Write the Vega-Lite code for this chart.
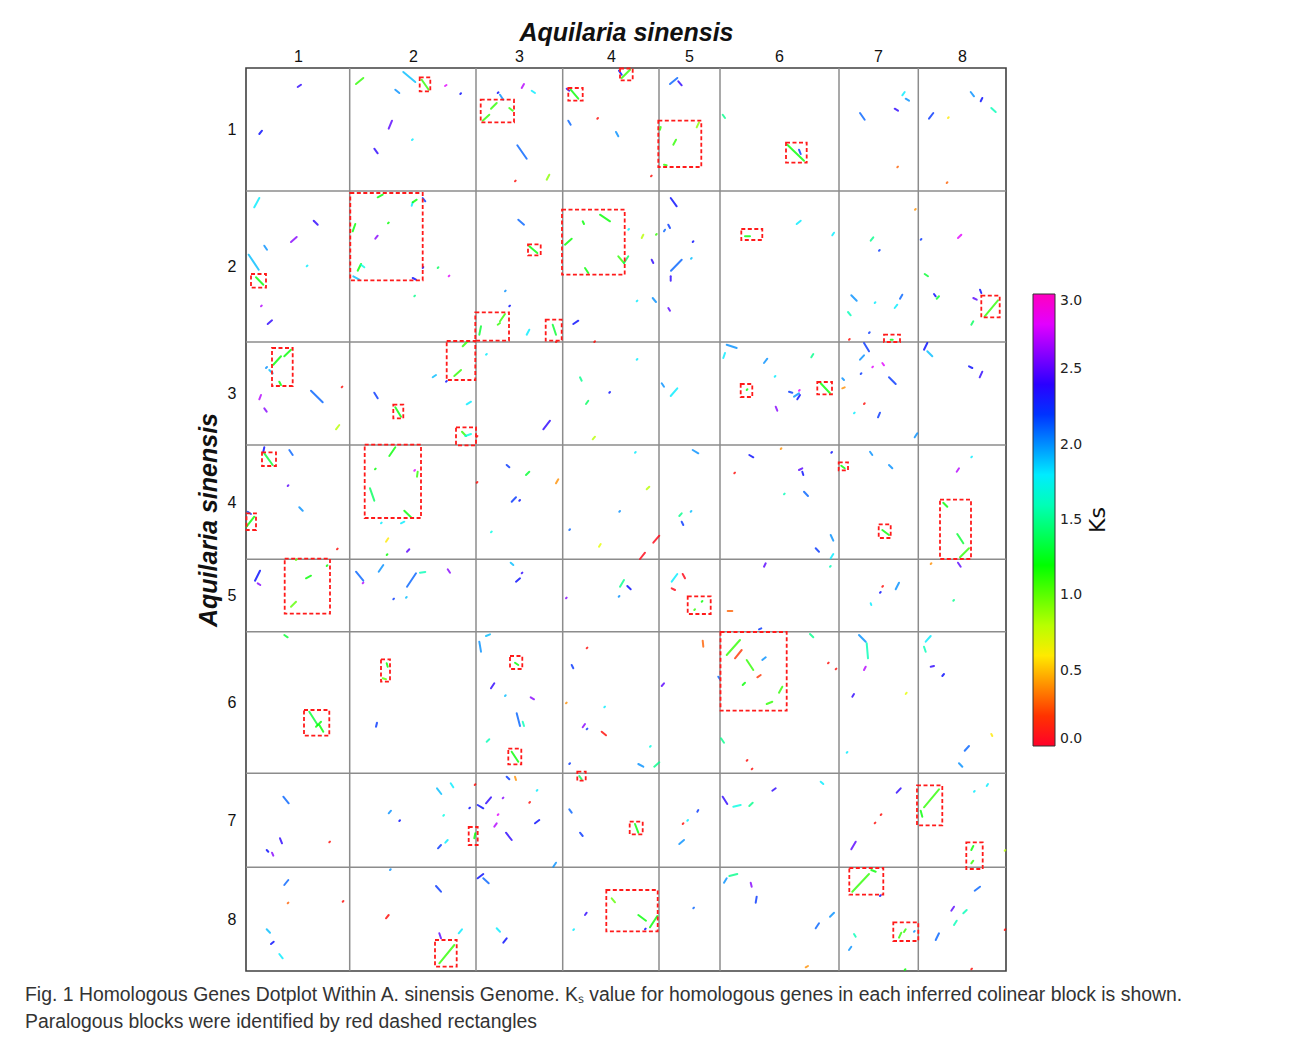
{
"$schema": "https://vega.github.io/schema/vega-lite/v6.json",
"width": 760, "height": 903,
"autosize": {"type": "none"},
"padding": {"left": 246, "top": 68, "right": 284, "bottom": 71},
"background": "white",
"config": {"view": {"stroke": "#404040", "strokeWidth": 1.6}},
"title": {"text": ["Fig. 1 Homologous Genes Dotplot Within A. sinensis Genome. Kₛ value for homologous genes in each inferred colinear block is shown.", "Paralogous blocks were identified by red dashed rectangles"], "orient": "bottom", "anchor": "start", "frame": "group", "offset": 14, "dx": -221, "font": "Liberation Sans", "fontSize": 19.4, "fontWeight": "normal", "color": "#333333", "lineHeight": 27, "baseline": "top"},
"datasets": {
"vlines": [{"pos": 103.7}, {"pos": 230}, {"pos": 316.7}, {"pos": 413}, {"pos": 474}, {"pos": 593}, {"pos": 672.3}],
"hlines": [{"pos": 123}, {"pos": 274}, {"pos": 377}, {"pos": 491.3}, {"pos": 563.7}, {"pos": 705.3}, {"pos": 799.3}],
"blocks": [
{"x1":173.7,"x2":184.3,"y1":9.3,"y2":23.3},
{"x1":234.7,"x2":268,"y1":31.7,"y2":54.3},
{"x1":322.3,"x2":336.7,"y1":20,"y2":32.7},
{"x1":374,"x2":386.7,"y1":0.5,"y2":12.3},
{"x1":412.3,"x2":455.3,"y1":52.7,"y2":99},
{"x1":540,"x2":560.7,"y1":74.7,"y2":94.7},
{"x1":5,"x2":20,"y1":206,"y2":219.7},
{"x1":104.3,"x2":176.7,"y1":125,"y2":212.3},
{"x1":282,"x2":294.7,"y1":176.3,"y2":187.3},
{"x1":316,"x2":378.7,"y1":141.7,"y2":206.7},
{"x1":495.3,"x2":516.3,"y1":161,"y2":172},
{"x1":229.3,"x2":263,"y1":244.3,"y2":272.7},
{"x1":299.7,"x2":315.7,"y1":251.7,"y2":272.7},
{"x1":638,"x2":654,"y1":266.7,"y2":274},
{"x1":735.3,"x2":753.7,"y1":227.7,"y2":249.3},
{"x1":26,"x2":46.7,"y1":280,"y2":318},
{"x1":200.7,"x2":229.3,"y1":273,"y2":312},
{"x1":147.3,"x2":157.3,"y1":336.7,"y2":350.3},
{"x1":210,"x2":230,"y1":359.3,"y2":377.3},
{"x1":494.7,"x2":506.3,"y1":316,"y2":329},
{"x1":571.3,"x2":586,"y1":314,"y2":326.3},
{"x1":16,"x2":30,"y1":384.3,"y2":398},
{"x1":0.5,"x2":10,"y1":445.3,"y2":462},
{"x1":118.7,"x2":175,"y1":376.7,"y2":450},
{"x1":592.7,"x2":602,"y1":394.3,"y2":402.3},
{"x1":632.7,"x2":644.7,"y1":456.3,"y2":470},
{"x1":694,"x2":725,"y1":431.7,"y2":491},
{"x1":38.7,"x2":84,"y1":490.7,"y2":545.7},
{"x1":441.7,"x2":464.7,"y1":528.3,"y2":546},
{"x1":135,"x2":144,"y1":591.3,"y2":613.7},
{"x1":264,"x2":276.3,"y1":588,"y2":601},
{"x1":474.5,"x2":540.7,"y1":564,"y2":642.7},
{"x1":58,"x2":83.3,"y1":642,"y2":667.7},
{"x1":262.3,"x2":275.3,"y1":680.7,"y2":696.3},
{"x1":331.3,"x2":339.7,"y1":703.7,"y2":712.7},
{"x1":222.7,"x2":231.7,"y1":759,"y2":777},
{"x1":383.7,"x2":396.7,"y1":753.7,"y2":766.3},
{"x1":671,"x2":696.3,"y1":717.3,"y2":757.3},
{"x1":720.3,"x2":736.7,"y1":774.3,"y2":801},
{"x1":189,"x2":210.7,"y1":872,"y2":898.7},
{"x1":360.3,"x2":411.7,"y1":822,"y2":863.3},
{"x1":603.3,"x2":637.3,"y1":800,"y2":826.7},
{"x1":647.3,"x2":672.3,"y1":854.3,"y2":873}
],
"segments": [
{"x1":51.7,"y1":19,"x2":55,"y2":16.7,"ks":2.4},
{"x1":13.3,"y1":66,"x2":16,"y2":62.7,"ks":2.3},
{"x1":110,"y1":16,"x2":117.3,"y2":10,"ks":1.1},
{"x1":157.3,"y1":4,"x2":169.3,"y2":14,"ks":1.9},
{"x1":175.7,"y1":11.7,"x2":182.7,"y2":21.7,"ks":1.1},
{"x1":199,"y1":18,"x2":200.5,"y2":17,"ks":2.8},
{"x1":214.3,"y1":26,"x2":215,"y2":25.3,"ks":2.3},
{"x1":149.3,"y1":21.7,"x2":153.3,"y2":25,"ks":2.0},
{"x1":146,"y1":52.7,"x2":142.7,"y2":60.7,"ks":2.5},
{"x1":166,"y1":72,"x2":166.8,"y2":71.3,"ks":1.8},
{"x1":128.3,"y1":80.7,"x2":131.7,"y2":85.3,"ks":2.4},
{"x1":236.7,"y1":52.7,"x2":243.3,"y2":46.7,"ks":1.1},
{"x1":245,"y1":40.7,"x2":250.7,"y2":35,"ks":1.1},
{"x1":251.7,"y1":25,"x2":252.5,"y2":24.3,"ks":2.3},
{"x1":8.3,"y1":139.3,"x2":13.3,"y2":130,"ks":1.8},
{"x1":67.7,"y1":152.7,"x2":71.7,"y2":156.7,"ks":2.4},
{"x1":45,"y1":174,"x2":50.7,"y2":169,"ks":2.6},
{"x1":18.3,"y1":177.7,"x2":21,"y2":181.7,"ks":2.0},
{"x1":2.7,"y1":186.7,"x2":12.7,"y2":201.7,"ks":1.9},
{"x1":10,"y1":209.3,"x2":17.3,"y2":216.7,"ks":1.2},
{"x1":60.7,"y1":198.3,"x2":61.5,"y2":197.6,"ks":1.8},
{"x1":15,"y1":238.3,"x2":15.8,"y2":237.6,"ks":2.7},
{"x1":26,"y1":252.3,"x2":21.7,"y2":256,"ks":2.4},
{"x1":131.7,"y1":129.3,"x2":136.7,"y2":126.7,"ks":1.2},
{"x1":165.7,"y1":137.7,"x2":166.7,"y2":134.3,"ks":1.8},
{"x1":166.7,"y1":134.3,"x2":170.7,"y2":131.7,"ks":1.2},
{"x1":176.7,"y1":130,"x2":179.3,"y2":133.3,"ks":2.2},
{"x1":106.7,"y1":163.3,"x2":109.3,"y2":156,"ks":1.2},
{"x1":142,"y1":155.3,"x2":142.8,"y2":154.6,"ks":1.2},
{"x1":129.3,"y1":170.7,"x2":131.7,"y2":167.7,"ks":2.6},
{"x1":111.7,"y1":202.7,"x2":115,"y2":196,"ks":1.2},
{"x1":115,"y1":196.7,"x2":118.3,"y2":199.3,"ks":1.7},
{"x1":107.3,"y1":208.3,"x2":113.3,"y2":211.7,"ks":1.9},
{"x1":166.7,"y1":210,"x2":170,"y2":211.7,"ks":2.3},
{"x1":176.7,"y1":200,"x2":177.3,"y2":199,"ks":2.3},
{"x1":191.7,"y1":200,"x2":192.4,"y2":199.3,"ks":1.4},
{"x1":202.7,"y1":208.3,"x2":203.4,"y2":207.6,"ks":2.8},
{"x1":168.3,"y1":228.3,"x2":169,"y2":227.6,"ks":1.5},
{"x1":233.3,"y1":266.7,"x2":235,"y2":258.3,"ks":1.3},
{"x1":251.7,"y1":256.7,"x2":254,"y2":255,"ks":1.1},
{"x1":27.3,"y1":296.7,"x2":35,"y2":288.3,"ks":1.2},
{"x1":38.3,"y1":288.3,"x2":45,"y2":281.7,"ks":1.2},
{"x1":20,"y1":300,"x2":21,"y2":299,"ks":2.0},
{"x1":216.7,"y1":278.3,"x2":221.7,"y2":273.3,"ks":1.1},
{"x1":240,"y1":286.7,"x2":240.8,"y2":286,"ks":1.8},
{"x1":23.3,"y1":302,"x2":26.7,"y2":305.3,"ks":1.9},
{"x1":33.3,"y1":313.7,"x2":35,"y2":317,"ks":1.2},
{"x1":15,"y1":327,"x2":13.3,"y2":331.3,"ks":2.7},
{"x1":18.3,"y1":340.3,"x2":20.7,"y2":343.7,"ks":2.6},
{"x1":65,"y1":322.7,"x2":76.7,"y2":334.3,"ks":2.1},
{"x1":95.7,"y1":319.3,"x2":96.4,"y2":318.6,"ks":0.1},
{"x1":90,"y1":361.3,"x2":93.3,"y2":357,"ks":0.8},
{"x1":128.3,"y1":324.7,"x2":131.7,"y2":330.3,"ks":2.2},
{"x1":149.3,"y1":339.3,"x2":155,"y2":348.7,"ks":1.2},
{"x1":186.7,"y1":309.3,"x2":190,"y2":307,"ks":1.9},
{"x1":200,"y1":313.7,"x2":200.8,"y2":313,"ks":2.3},
{"x1":208.3,"y1":308,"x2":215,"y2":302,"ks":1.1},
{"x1":220.7,"y1":336.3,"x2":225,"y2":333.7,"ks":1.8},
{"x1":216,"y1":363.7,"x2":220,"y2":368,"ks":1.1},
{"x1":219.3,"y1":368,"x2":225,"y2":366,"ks":1.7},
{"x1":230.7,"y1":368.7,"x2":231.4,"y2":368,"ks":0.1},
{"x1":18.3,"y1":385.3,"x2":26.7,"y2":397,"ks":1.3},
{"x1":18.3,"y1":379.3,"x2":17.3,"y2":383.7,"ks":2.3},
{"x1":43.3,"y1":382,"x2":46.7,"y2":387,"ks":2.1},
{"x1":41.7,"y1":418,"x2":42.4,"y2":417.3,"ks":2.5},
{"x1":53.3,"y1":439.3,"x2":56.7,"y2":442.7,"ks":2.0},
{"x1":0.5,"y1":458.7,"x2":8.3,"y2":448.7,"ks":1.2},
{"x1":1.7,"y1":443.7,"x2":5,"y2":446,"ks":2.2},
{"x1":91,"y1":481.3,"x2":91.7,"y2":480.6,"ks":0.1},
{"x1":143.3,"y1":388,"x2":149.3,"y2":379.3,"ks":1.2},
{"x1":129,"y1":401.3,"x2":129.7,"y2":400.6,"ks":1.2},
{"x1":168.3,"y1":402.7,"x2":169,"y2":402,"ks":2.8},
{"x1":171,"y1":408.7,"x2":171.7,"y2":403.7,"ks":1.1},
{"x1":124,"y1":420.3,"x2":128.3,"y2":432.7,"ks":1.4},
{"x1":158.3,"y1":442.7,"x2":165,"y2":449.3,"ks":1.2},
{"x1":158.3,"y1":453.7,"x2":155,"y2":455.3,"ks":1.8},
{"x1":135,"y1":455.3,"x2":135.7,"y2":454.6,"ks":1.8},
{"x1":140,"y1":473.7,"x2":142.3,"y2":470.3,"ks":0.6},
{"x1":140.7,"y1":487,"x2":141.4,"y2":486.3,"ks":1.2},
{"x1":161,"y1":483.7,"x2":163.3,"y2":481.3,"ks":2.5},
{"x1":230.7,"y1":414.7,"x2":231.4,"y2":414,"ks":0.1},
{"x1":245,"y1":464.3,"x2":245.8,"y2":463.6,"ks":1.7},
{"x1":9,"y1":512.7,"x2":14,"y2":502.7,"ks":2.3},
{"x1":11.7,"y1":515.3,"x2":14.3,"y2":517,"ks":2.6},
{"x1":50,"y1":492,"x2":50.8,"y2":491.3,"ks":1.0},
{"x1":80.7,"y1":498,"x2":81.4,"y2":497.3,"ks":1.2},
{"x1":60,"y1":510.3,"x2":65,"y2":507.7,"ks":1.2},
{"x1":45,"y1":538.7,"x2":50,"y2":533.7,"ks":1.0},
{"x1":110,"y1":503.7,"x2":117.3,"y2":512.7,"ks":2.1},
{"x1":116.7,"y1":515.3,"x2":117.4,"y2":514.6,"ks":2.7},
{"x1":132.7,"y1":503.7,"x2":137.3,"y2":497,"ks":2.0},
{"x1":161,"y1":518.7,"x2":170,"y2":505.3,"ks":2.1},
{"x1":174,"y1":504.7,"x2":179.3,"y2":504,"ks":1.6},
{"x1":201.7,"y1":501.3,"x2":204,"y2":504.7,"ks":2.6},
{"x1":147.3,"y1":531.3,"x2":148,"y2":530.6,"ks":2.2},
{"x1":160,"y1":529.7,"x2":160.7,"y2":529,"ks":1.9},
{"x1":38.3,"y1":567,"x2":41.7,"y2":569.3,"ks":1.3},
{"x1":233.3,"y1":573.7,"x2":235,"y2":583.7,"ks":2.0},
{"x1":240,"y1":568,"x2":244,"y2":566.3,"ks":1.9},
{"x1":140.7,"y1":595.3,"x2":141.7,"y2":598.7,"ks":1.2},
{"x1":136.7,"y1":610.3,"x2":140,"y2":611.3,"ks":1.0},
{"x1":248.3,"y1":615.3,"x2":245,"y2":620.3,"ks":2.4},
{"x1":63.3,"y1":643.7,"x2":71.7,"y2":657,"ks":1.3},
{"x1":70,"y1":658.7,"x2":75,"y2":653.7,"ks":1.2},
{"x1":73.3,"y1":657,"x2":77.3,"y2":663.7,"ks":1.2},
{"x1":130,"y1":658.7,"x2":131,"y2":654.7,"ks":2.2},
{"x1":240.7,"y1":673.7,"x2":243.3,"y2":671.3,"ks":1.6},
{"x1":37.3,"y1":728.7,"x2":42.7,"y2":735.3,"ks":2.1},
{"x1":34,"y1":770.3,"x2":36,"y2":775.3,"ks":2.4},
{"x1":20.7,"y1":782,"x2":22.3,"y2":783.7,"ks":2.3},
{"x1":26,"y1":784.7,"x2":27.3,"y2":787.7,"ks":2.6},
{"x1":83.3,"y1":774.3,"x2":84,"y2":773.6,"ks":0.1},
{"x1":142.7,"y1":745.3,"x2":145,"y2":742.7,"ks":2.0},
{"x1":153.3,"y1":753,"x2":154,"y2":752.3,"ks":2.3},
{"x1":191,"y1":720.3,"x2":195.3,"y2":726,"ks":1.9},
{"x1":204.7,"y1":715.3,"x2":207.3,"y2":719.3,"ks":1.8},
{"x1":197.3,"y1":747.7,"x2":198,"y2":747,"ks":1.7},
{"x1":192,"y1":780.3,"x2":195,"y2":777,"ks":2.2},
{"x1":199.3,"y1":774.7,"x2":201.7,"y2":772,"ks":1.8},
{"x1":223.3,"y1":740.3,"x2":224,"y2":739.6,"ks":2.3},
{"x1":228.7,"y1":717,"x2":229.4,"y2":716.3,"ks":0.1},
{"x1":228.3,"y1":770.3,"x2":229.3,"y2":765.3,"ks":1.2},
{"x1":231.7,"y1":737,"x2":237.3,"y2":740.3,"ks":2.3},
{"x1":240,"y1":735.3,"x2":245,"y2":729.3,"ks":2.4},
{"x1":251.7,"y1":747,"x2":252.4,"y2":746.3,"ks":2.8},
{"x1":248.3,"y1":758.7,"x2":250.7,"y2":755.3,"ks":2.7},
{"x1":38.3,"y1":817,"x2":42.3,"y2":812,"ks":2.1},
{"x1":41.7,"y1":835.3,"x2":42.4,"y2":834.6,"ks":0.3},
{"x1":96.7,"y1":833.7,"x2":97.4,"y2":833,"ks":0.1},
{"x1":20.7,"y1":861.3,"x2":24,"y2":864.7,"ks":1.9},
{"x1":25,"y1":876,"x2":27.7,"y2":873.7,"ks":2.3},
{"x1":33.3,"y1":886,"x2":36.7,"y2":890.3,"ks":1.8},
{"x1":144,"y1":802,"x2":144.7,"y2":801.3,"ks":2.0},
{"x1":190,"y1":818,"x2":195,"y2":823.7,"ks":2.2},
{"x1":140,"y1":850.3,"x2":142.7,"y2":847,"ks":0.1},
{"x1":193.3,"y1":865.3,"x2":195,"y2":870.3,"ks":2.5},
{"x1":212.7,"y1":865.3,"x2":216,"y2":861.3,"ks":1.8},
{"x1":193.3,"y1":895.3,"x2":208.3,"y2":877,"ks":1.1},
{"x1":231.7,"y1":810.3,"x2":237.3,"y2":806,"ks":2.3},
{"x1":237.3,"y1":810.3,"x2":242.7,"y2":815.3,"ks":2.1},
{"x1":250.7,"y1":860.3,"x2":254,"y2":863.7,"ks":1.8},
{"x1":275.7,"y1":20,"x2":278,"y2":16,"ks":2.7},
{"x1":285.7,"y1":22.7,"x2":289,"y2":25,"ks":1.8},
{"x1":254,"y1":26.7,"x2":257.3,"y2":31.7,"ks":2.0},
{"x1":263.3,"y1":40,"x2":266.7,"y2":42.7,"ks":1.1},
{"x1":271.3,"y1":77.3,"x2":280.7,"y2":90.7,"ks":2.1},
{"x1":300.7,"y1":111.7,"x2":303.3,"y2":106.7,"ks":0.9},
{"x1":269,"y1":113.3,"x2":269.7,"y2":112.6,"ks":0.1},
{"x1":375.7,"y1":10,"x2":384,"y2":1.7,"ks":1.1},
{"x1":373,"y1":2.7,"x2":375.7,"y2":6.7,"ks":2.3},
{"x1":320.7,"y1":20.7,"x2":323.3,"y2":22.7,"ks":2.4},
{"x1":324.7,"y1":21.7,"x2":332.3,"y2":30.7,"ks":1.2},
{"x1":322.3,"y1":52.7,"x2":324.7,"y2":56.7,"ks":2.1},
{"x1":351.3,"y1":50.7,"x2":352,"y2":50,"ks":0.1},
{"x1":370,"y1":64,"x2":372.3,"y2":68.3,"ks":2.0},
{"x1":405,"y1":108.3,"x2":405.7,"y2":107.6,"ks":0.1},
{"x1":424,"y1":16,"x2":431.3,"y2":10,"ks":2.1},
{"x1":432.3,"y1":13.3,"x2":435.7,"y2":17.3,"ks":2.4},
{"x1":414,"y1":61.7,"x2":414.7,"y2":59,"ks":1.1},
{"x1":427.3,"y1":76.7,"x2":430,"y2":71.7,"ks":1.1},
{"x1":450.7,"y1":59.3,"x2":453,"y2":54.3,"ks":0.9},
{"x1":418,"y1":96.7,"x2":420.7,"y2":97.3,"ks":1.1},
{"x1":476.7,"y1":46.7,"x2":479,"y2":50,"ks":1.5},
{"x1":272.3,"y1":151.7,"x2":278,"y2":156.7,"ks":2.1},
{"x1":283.3,"y1":178.3,"x2":291.3,"y2":185,"ks":1.2},
{"x1":259,"y1":223.3,"x2":259.7,"y2":222.6,"ks":2.0},
{"x1":263.3,"y1":238.3,"x2":264,"y2":237.6,"ks":2.3},
{"x1":306.7,"y1":256.7,"x2":310,"y2":266.7,"ks":1.3},
{"x1":280.7,"y1":266.7,"x2":283.3,"y2":261.7,"ks":1.8},
{"x1":254,"y1":253.3,"x2":259,"y2":246,"ks":1.1},
{"x1":310,"y1":274,"x2":310.7,"y2":273.3,"ks":0.1},
{"x1":354,"y1":146.7,"x2":364,"y2":153.3,"ks":1.2},
{"x1":336.7,"y1":153.3,"x2":338,"y2":156,"ks":1.2},
{"x1":319,"y1":176.7,"x2":325.7,"y2":170.7,"ks":1.2},
{"x1":372.3,"y1":188.3,"x2":378,"y2":195,"ks":1.1},
{"x1":378,"y1":195,"x2":382.3,"y2":188.3,"ks":1.4},
{"x1":339,"y1":200,"x2":342.3,"y2":205,"ks":1.2},
{"x1":382.3,"y1":161.7,"x2":383,"y2":161,"ks":1.8},
{"x1":397.3,"y1":166.7,"x2":395.7,"y2":170,"ks":0.8},
{"x1":410,"y1":166.7,"x2":410.7,"y2":166,"ks":1.1},
{"x1":405.7,"y1":191.7,"x2":407.3,"y2":195,"ks":2.4},
{"x1":424.7,"y1":130,"x2":430.7,"y2":138.3,"ks":2.3},
{"x1":418,"y1":163.3,"x2":419,"y2":161.7,"ks":2.1},
{"x1":422.3,"y1":156.7,"x2":424,"y2":160,"ks":2.2},
{"x1":446.7,"y1":174,"x2":447.4,"y2":173.3,"ks":2.3},
{"x1":445,"y1":190.7,"x2":445.7,"y2":190,"ks":1.9},
{"x1":425,"y1":202.7,"x2":435.7,"y2":191.7,"ks":2.1},
{"x1":424.7,"y1":208.3,"x2":424.7,"y2":212.7,"ks":2.4},
{"x1":390.7,"y1":233.3,"x2":391.4,"y2":232.6,"ks":1.8},
{"x1":406.7,"y1":230,"x2":410,"y2":234,"ks":2.0},
{"x1":422.3,"y1":240,"x2":424,"y2":242.7,"ks":2.5},
{"x1":327.3,"y1":256,"x2":332.3,"y2":252.7,"ks":2.3},
{"x1":348.3,"y1":274,"x2":349,"y2":273.3,"ks":0.1},
{"x1":390.7,"y1":291.7,"x2":391.4,"y2":291,"ks":1.8},
{"x1":499,"y1":168.3,"x2":504,"y2":168.3,"ks":1.2},
{"x1":480.7,"y1":276.7,"x2":490.7,"y2":280,"ks":2.0},
{"x1":477.3,"y1":290,"x2":479,"y2":285,"ks":1.8},
{"x1":334,"y1":309.3,"x2":335.7,"y2":312.7,"ks":1.5},
{"x1":363.3,"y1":324.7,"x2":364,"y2":324,"ks":2.3},
{"x1":340,"y1":336,"x2":342.3,"y2":332.7,"ks":1.4},
{"x1":297.3,"y1":361.3,"x2":304,"y2":352.7,"ks":2.4},
{"x1":346.7,"y1":371.3,"x2":349,"y2":368.7,"ks":0.8},
{"x1":415.7,"y1":315.3,"x2":418,"y2":318.7,"ks":2.0},
{"x1":424.7,"y1":328,"x2":431.3,"y2":320.3,"ks":1.8},
{"x1":500.7,"y1":322,"x2":501.4,"y2":321.3,"ks":1.2},
{"x1":260.7,"y1":397,"x2":263.3,"y2":399.3,"ks":2.2},
{"x1":280,"y1":407,"x2":283.3,"y2":403.7,"ks":1.3},
{"x1":310,"y1":415.3,"x2":312.3,"y2":411.3,"ks":0.4},
{"x1":265.7,"y1":433.7,"x2":270,"y2":429.3,"ks":2.2},
{"x1":273.3,"y1":432.7,"x2":274,"y2":432,"ks":2.3},
{"x1":389,"y1":384.7,"x2":389.7,"y2":384,"ks":1.8},
{"x1":400.7,"y1":421.3,"x2":403.3,"y2":418.7,"ks":0.8},
{"x1":373.3,"y1":443.7,"x2":374,"y2":443,"ks":2.0},
{"x1":323.3,"y1":462,"x2":324,"y2":461.3,"ks":2.1},
{"x1":353,"y1":478.7,"x2":354.7,"y2":476,"ks":0.7},
{"x1":394,"y1":491,"x2":399,"y2":484.7,"ks":0.05},
{"x1":407.3,"y1":474.7,"x2":413.3,"y2":467.7,"ks":0.05},
{"x1":446.7,"y1":382,"x2":452.3,"y2":385.3,"ks":2.0},
{"x1":433.3,"y1":448,"x2":435.7,"y2":445.3,"ks":1.5},
{"x1":444.7,"y1":443.7,"x2":445.4,"y2":443,"ks":1.9},
{"x1":435.7,"y1":453.7,"x2":437.3,"y2":457,"ks":2.2},
{"x1":488.3,"y1":405.3,"x2":489,"y2":404.6,"ks":0.1},
{"x1":503.3,"y1":387,"x2":507.3,"y2":389.3,"ks":2.3},
{"x1":264.7,"y1":494.7,"x2":267.3,"y2":497,"ks":1.9},
{"x1":270,"y1":513.7,"x2":274,"y2":510.3,"ks":2.3},
{"x1":275.7,"y1":505.3,"x2":276.4,"y2":504.6,"ks":2.4},
{"x1":320,"y1":530.3,"x2":320.7,"y2":529.6,"ks":2.6},
{"x1":374,"y1":518.7,"x2":378,"y2":512,"ks":1.5},
{"x1":381.3,"y1":518,"x2":384.7,"y2":521.3,"ks":2.3},
{"x1":372.7,"y1":528.7,"x2":373.4,"y2":528,"ks":2.0},
{"x1":425.7,"y1":513.7,"x2":431.3,"y2":506,"ks":1.8},
{"x1":436.7,"y1":506,"x2":439,"y2":510.3,"ks":0.05},
{"x1":425.7,"y1":520.3,"x2":429,"y2":522,"ks":0.05},
{"x1":455.7,"y1":533.7,"x2":456.4,"y2":533,"ks":1.2},
{"x1":448.3,"y1":542,"x2":449,"y2":541.3,"ks":1.1},
{"x1":481.7,"y1":543,"x2":486.3,"y2":543,"ks":0.3},
{"x1":340.7,"y1":580.3,"x2":341.4,"y2":579.6,"ks":0.1},
{"x1":456.7,"y1":572.7,"x2":457.3,"y2":578.7,"ks":0.3},
{"x1":325.7,"y1":597,"x2":327.3,"y2":600.3,"ks":2.2},
{"x1":269,"y1":594.7,"x2":272.3,"y2":597,"ks":1.2},
{"x1":480.7,"y1":587,"x2":494,"y2":572,"ks":1.1},
{"x1":489,"y1":590.3,"x2":495.7,"y2":582,"ks":0.2},
{"x1":500.7,"y1":592,"x2":507.3,"y2":602,"ks":1.1},
{"x1":259,"y1":628,"x2":259.7,"y2":627.3,"ks":1.9},
{"x1":284.7,"y1":629.3,"x2":288,"y2":631.3,"ks":2.6},
{"x1":270.7,"y1":645.3,"x2":274,"y2":658,"ks":2.1},
{"x1":276.7,"y1":653.7,"x2":278,"y2":658,"ks":1.6},
{"x1":265.7,"y1":683.7,"x2":272.3,"y2":693.7,"ks":1.2},
{"x1":320,"y1":635.3,"x2":320.7,"y2":634.6,"ks":0.4},
{"x1":358.3,"y1":639.3,"x2":359,"y2":638.6,"ks":1.8},
{"x1":336.7,"y1":659.3,"x2":339,"y2":656,"ks":2.6},
{"x1":340.7,"y1":661.3,"x2":341.4,"y2":660.6,"ks":2.2},
{"x1":355.7,"y1":663.7,"x2":360,"y2":667.3,"ks":0.1},
{"x1":404,"y1":678.7,"x2":404.7,"y2":678,"ks":1.7},
{"x1":323.3,"y1":696,"x2":324,"y2":695.3,"ks":2.2},
{"x1":392.3,"y1":696,"x2":397.3,"y2":698.7,"ks":2.0},
{"x1":408.3,"y1":698.7,"x2":413.3,"y2":694.3,"ks":1.5},
{"x1":415.7,"y1":618,"x2":418,"y2":615.3,"ks":2.5},
{"x1":472.3,"y1":608.7,"x2":474,"y2":611.3,"ks":2.1},
{"x1":475,"y1":670.3,"x2":478,"y2":674.7,"ks":1.5},
{"x1":500.7,"y1":692.7,"x2":501.4,"y2":692,"ks":0.1},
{"x1":505.7,"y1":701.3,"x2":506.4,"y2":700.6,"ks":0.1},
{"x1":496.7,"y1":617,"x2":499,"y2":614.7,"ks":1.2},
{"x1":260.7,"y1":708.7,"x2":263.3,"y2":711.3,"ks":2.2},
{"x1":269,"y1":708.7,"x2":270,"y2":712,"ks":0.4},
{"x1":290.7,"y1":722.7,"x2":291.4,"y2":722,"ks":1.8},
{"x1":256.7,"y1":730.3,"x2":257.4,"y2":729.6,"ks":2.6},
{"x1":283.3,"y1":734.7,"x2":284,"y2":734,"ks":0.1},
{"x1":289,"y1":755.3,"x2":293.3,"y2":752,"ks":2.3},
{"x1":260,"y1":764.7,"x2":265.7,"y2":772,"ks":2.4},
{"x1":307.3,"y1":798.7,"x2":310,"y2":794.7,"ks":2.0},
{"x1":333.3,"y1":708,"x2":335.7,"y2":711.3,"ks":1.4},
{"x1":323.3,"y1":741.3,"x2":325.7,"y2":744.7,"ks":2.1},
{"x1":334,"y1":764.7,"x2":336.7,"y2":768,"ks":2.2},
{"x1":389,"y1":756,"x2":392.3,"y2":764.7,"ks":1.2},
{"x1":436.7,"y1":756,"x2":437.4,"y2":755.3,"ks":0.1},
{"x1":441.3,"y1":752.7,"x2":442,"y2":752,"ks":1.8},
{"x1":433.3,"y1":776,"x2":438,"y2":772,"ks":2.0},
{"x1":451.3,"y1":743.7,"x2":452.3,"y2":742,"ks":2.2},
{"x1":476.7,"y1":728.7,"x2":481.3,"y2":736,"ks":2.4},
{"x1":487.3,"y1":738.7,"x2":494.7,"y2":737,"ks":1.7},
{"x1":503.3,"y1":738,"x2":506.7,"y2":734.7,"ks":1.5},
{"x1":257.3,"y1":874.7,"x2":260.7,"y2":870.3,"ks":2.3},
{"x1":339,"y1":847,"x2":340.7,"y2":844.7,"ks":2.4},
{"x1":327.3,"y1":862,"x2":328,"y2":861.3,"ks":1.8},
{"x1":365.7,"y1":830.3,"x2":369,"y2":834.3,"ks":1.0},
{"x1":392.3,"y1":847,"x2":400,"y2":852.7,"ks":1.2},
{"x1":404,"y1":859.3,"x2":411.3,"y2":848,"ks":1.2},
{"x1":399,"y1":861.3,"x2":399.7,"y2":860.6,"ks":2.3},
{"x1":447.3,"y1":840.3,"x2":448,"y2":839.6,"ks":2.1},
{"x1":478,"y1":814.7,"x2":480.7,"y2":810.3,"ks":2.0},
{"x1":483.3,"y1":808,"x2":491.3,"y2":806,"ks":1.5},
{"x1":504.7,"y1":814.7,"x2":505.7,"y2":818.7,"ks":2.6},
{"x1":541.3,"y1":76.7,"x2":558,"y2":92.7,"ks":1.2},
{"x1":553,"y1":81.7,"x2":554.7,"y2":86,"ks":2.2},
{"x1":614,"y1":45,"x2":618.7,"y2":51.7,"ks":2.1},
{"x1":656.3,"y1":27.3,"x2":658.7,"y2":24,"ks":1.8},
{"x1":659.7,"y1":30.7,"x2":663,"y2":32.7,"ks":2.0},
{"x1":648.7,"y1":40.7,"x2":652,"y2":42.7,"ks":2.4},
{"x1":651.3,"y1":99.3,"x2":652,"y2":98.6,"ks":0.3},
{"x1":683,"y1":50.7,"x2":687.3,"y2":45,"ks":2.2},
{"x1":702,"y1":50,"x2":702.7,"y2":49.3,"ks":0.6},
{"x1":700.7,"y1":115,"x2":701.4,"y2":114.3,"ks":0.3},
{"x1":724.7,"y1":24,"x2":728,"y2":28.3,"ks":2.0},
{"x1":734.7,"y1":33.3,"x2":736.3,"y2":30,"ks":2.3},
{"x1":745.3,"y1":40,"x2":749.7,"y2":44,"ks":1.6},
{"x1":550.7,"y1":156,"x2":554.7,"y2":152.7,"ks":1.8},
{"x1":586.3,"y1":167.3,"x2":588,"y2":164.7,"ks":1.8},
{"x1":669,"y1":141.7,"x2":669.7,"y2":141,"ks":0.4},
{"x1":624.7,"y1":172.7,"x2":627.3,"y2":169.3,"ks":1.5},
{"x1":633,"y1":182.7,"x2":633.7,"y2":182,"ks":2.2},
{"x1":674.7,"y1":171.7,"x2":675.4,"y2":171,"ks":2.2},
{"x1":712,"y1":170,"x2":715.3,"y2":166.7,"ks":2.8},
{"x1":605.3,"y1":227.3,"x2":610.7,"y2":232.7,"ks":2.0},
{"x1":628.7,"y1":235,"x2":629.4,"y2":234.3,"ks":1.8},
{"x1":656.3,"y1":226.7,"x2":654,"y2":230.7,"ks":2.1},
{"x1":651.3,"y1":236.7,"x2":648.7,"y2":240,"ks":1.8},
{"x1":602,"y1":244,"x2":604.7,"y2":247.3,"ks":1.6},
{"x1":623,"y1":265,"x2":623.7,"y2":264.3,"ks":2.2},
{"x1":603,"y1":271.7,"x2":603.7,"y2":271,"ks":0.1},
{"x1":644.7,"y1":271.7,"x2":646.7,"y2":271.7,"ks":1.2},
{"x1":678.7,"y1":206,"x2":682,"y2":208.3,"ks":1.3},
{"x1":688,"y1":226,"x2":689.7,"y2":228.3,"ks":2.3},
{"x1":690.7,"y1":230.7,"x2":693,"y2":228.3,"ks":1.3},
{"x1":727.3,"y1":230,"x2":730.7,"y2":231.7,"ks":2.5},
{"x1":734,"y1":221.7,"x2":735.3,"y2":225,"ks":2.3},
{"x1":738.7,"y1":248.3,"x2":752,"y2":232.3,"ks":1.1},
{"x1":725.3,"y1":256.7,"x2":727.3,"y2":253.3,"ks":1.4},
{"x1":518,"y1":295,"x2":521.3,"y2":290.7,"ks":2.0},
{"x1":565.3,"y1":289.3,"x2":567.3,"y2":286,"ks":1.5},
{"x1":618,"y1":275,"x2":623,"y2":283.3,"ks":2.2},
{"x1":618,"y1":287.3,"x2":614,"y2":291.7,"ks":2.0},
{"x1":626.3,"y1":299.3,"x2":627,"y2":298.6,"ks":2.8},
{"x1":636.3,"y1":295,"x2":638,"y2":297.3,"ks":2.8},
{"x1":681.3,"y1":275,"x2":678,"y2":281.7,"ks":2.3},
{"x1":681.3,"y1":283.3,"x2":686.3,"y2":288.3,"ks":1.9},
{"x1":723,"y1":298.3,"x2":726.3,"y2":300,"ks":2.3},
{"x1":528.7,"y1":308.7,"x2":529.4,"y2":308,"ks":1.8},
{"x1":543,"y1":323.7,"x2":546.3,"y2":324.7,"ks":2.2},
{"x1":548,"y1":328.7,"x2":553,"y2":325.3,"ks":2.0},
{"x1":551.3,"y1":331.3,"x2":554,"y2":327,"ks":2.3},
{"x1":553,"y1":322.7,"x2":553.7,"y2":322,"ks":2.8},
{"x1":529.7,"y1":338.7,"x2":531.3,"y2":342.7,"ks":2.6},
{"x1":574.7,"y1":315.3,"x2":584,"y2":325.3,"ks":1.2},
{"x1":596.3,"y1":310.3,"x2":598,"y2":312,"ks":2.0},
{"x1":596.3,"y1":320.3,"x2":598.7,"y2":319.3,"ks":0.4},
{"x1":614.7,"y1":306,"x2":615.4,"y2":305.3,"ks":2.2},
{"x1":643,"y1":309.3,"x2":649.7,"y2":316,"ks":2.2},
{"x1":618,"y1":336,"x2":618.7,"y2":335.3,"ks":0.1},
{"x1":608,"y1":345.3,"x2":608.7,"y2":344.6,"ks":1.8},
{"x1":634,"y1":344.7,"x2":632,"y2":349.3,"ks":2.2},
{"x1":671.3,"y1":365.3,"x2":668.7,"y2":369.3,"ks":2.0},
{"x1":736.3,"y1":303.7,"x2":733.7,"y2":309.3,"ks":2.4},
{"x1":534.7,"y1":381,"x2":535.4,"y2":380.3,"ks":0.4},
{"x1":585.3,"y1":384.7,"x2":586,"y2":384,"ks":2.3},
{"x1":553,"y1":402,"x2":556.3,"y2":400.3,"ks":2.5},
{"x1":556.3,"y1":403.7,"x2":557.3,"y2":407,"ks":2.3},
{"x1":538,"y1":426.3,"x2":538.7,"y2":425.6,"ks":1.6},
{"x1":558,"y1":423.7,"x2":562,"y2":428,"ks":2.1},
{"x1":584.7,"y1":467,"x2":587.3,"y2":472.7,"ks":2.0},
{"x1":569.7,"y1":480.3,"x2":573,"y2":483.7,"ks":2.2},
{"x1":584.7,"y1":490.3,"x2":587.3,"y2":486,"ks":1.8},
{"x1":595.3,"y1":397.7,"x2":598.7,"y2":400.3,"ks":1.2},
{"x1":624,"y1":383.7,"x2":626.3,"y2":387,"ks":2.0},
{"x1":643,"y1":397,"x2":646.3,"y2":400.3,"ks":2.0},
{"x1":636.3,"y1":462,"x2":643,"y2":467,"ks":1.2},
{"x1":725.3,"y1":389.3,"x2":726,"y2":388.6,"ks":1.8},
{"x1":713,"y1":400.3,"x2":710.7,"y2":403.7,"ks":2.7},
{"x1":697.3,"y1":434.7,"x2":701.3,"y2":438.7,"ks":1.2},
{"x1":711.3,"y1":466,"x2":717.3,"y2":475.3,"ks":1.3},
{"x1":714,"y1":489.3,"x2":723,"y2":480.3,"ks":1.1},
{"x1":519.7,"y1":495.3,"x2":518,"y2":498.7,"ks":2.5},
{"x1":584,"y1":498.7,"x2":584.7,"y2":498,"ks":1.6},
{"x1":636.3,"y1":518.7,"x2":637,"y2":518,"ks":0.1},
{"x1":634,"y1":524.7,"x2":634.7,"y2":524,"ks":2.3},
{"x1":649.7,"y1":521.3,"x2":653,"y2":514.7,"ks":2.0},
{"x1":625.3,"y1":537,"x2":624.7,"y2":535.3,"ks":1.8},
{"x1":684.7,"y1":496,"x2":685.4,"y2":495.3,"ks":0.4},
{"x1":712,"y1":494.7,"x2":714.7,"y2":498.7,"ks":2.5},
{"x1":707.3,"y1":532.7,"x2":708,"y2":532,"ks":1.5},
{"x1":513,"y1":561.3,"x2":515.3,"y2":560.3,"ks":2.2},
{"x1":564,"y1":566,"x2":567.3,"y2":569.3,"ks":1.5},
{"x1":516.3,"y1":592,"x2":519.7,"y2":589.3,"ks":2.0},
{"x1":582,"y1":595.3,"x2":582.7,"y2":594.6,"ks":0.1},
{"x1":589.7,"y1":601.3,"x2":590.4,"y2":600.6,"ks":0.1},
{"x1":613,"y1":567,"x2":619.7,"y2":573.7,"ks":2.0},
{"x1":620.7,"y1":575.3,"x2":622,"y2":590.3,"ks":1.6},
{"x1":619.7,"y1":598.7,"x2":618,"y2":602,"ks":2.7},
{"x1":679.7,"y1":573.7,"x2":684.7,"y2":568,"ks":1.8},
{"x1":678,"y1":578.7,"x2":679.7,"y2":583.7,"ks":1.6},
{"x1":684.7,"y1":598.7,"x2":688,"y2":598,"ks":2.4},
{"x1":511.3,"y1":609.3,"x2":514.7,"y2":607,"ks":0.2},
{"x1":533,"y1":624.7,"x2":536.3,"y2":618.7,"ks":1.1},
{"x1":520.7,"y1":636,"x2":526.3,"y2":633.7,"ks":1.1},
{"x1":606.3,"y1":628.7,"x2":608,"y2":626,"ks":2.4},
{"x1":660.7,"y1":624.7,"x2":659.7,"y2":626,"ks":0.7},
{"x1":696.3,"y1":608,"x2":698,"y2":606,"ks":2.3},
{"x1":746.3,"y1":668,"x2":745.3,"y2":666,"ks":0.6},
{"x1":718.7,"y1":682.7,"x2":723,"y2":678,"ks":2.1},
{"x1":713,"y1":695.3,"x2":716.3,"y2":698.7,"ks":2.0},
{"x1":600.7,"y1":684.7,"x2":601.4,"y2":684,"ks":1.8},
{"x1":526.3,"y1":722.7,"x2":529.7,"y2":720.3,"ks":2.4},
{"x1":574.7,"y1":713.7,"x2":577.3,"y2":716,"ks":1.8},
{"x1":650.7,"y1":724.7,"x2":654.7,"y2":720.3,"ks":2.4},
{"x1":634.7,"y1":747,"x2":635.4,"y2":746.3,"ks":0.1},
{"x1":628.7,"y1":755.3,"x2":629.4,"y2":754.6,"ks":0.1},
{"x1":605.3,"y1":781.3,"x2":609.7,"y2":773.7,"ks":2.5},
{"x1":678,"y1":739.3,"x2":693,"y2":721.3,"ks":1.1},
{"x1":674.7,"y1":742.7,"x2":676.3,"y2":748.7,"ks":1.2},
{"x1":740.7,"y1":718,"x2":742,"y2":716,"ks":1.8},
{"x1":728,"y1":723.7,"x2":728.7,"y2":723,"ks":1.8},
{"x1":725.3,"y1":782,"x2":727.3,"y2":778,"ks":1.2},
{"x1":725.3,"y1":795.3,"x2":727.3,"y2":792.7,"ks":1.1},
{"x1":758.7,"y1":782.7,"x2":759.4,"y2":782,"ks":0.8},
{"x1":510.7,"y1":828.7,"x2":509.7,"y2":834.7,"ks":2.2},
{"x1":573,"y1":855.3,"x2":569.7,"y2":860.3,"ks":2.1},
{"x1":584,"y1":848.7,"x2":588,"y2":844.7,"ks":2.0},
{"x1":603,"y1":882,"x2":605.3,"y2":878.7,"ks":2.0},
{"x1":608,"y1":866,"x2":609.7,"y2":868.7,"ks":1.6},
{"x1":559.7,"y1":899.3,"x2":562,"y2":898,"ks":0.4},
{"x1":606.3,"y1":823.7,"x2":623,"y2":806,"ks":1.1},
{"x1":625.3,"y1":802,"x2":629.7,"y2":803.7,"ks":1.2},
{"x1":634,"y1":828,"x2":634.7,"y2":827.3,"ks":2.3},
{"x1":653,"y1":869.7,"x2":655.3,"y2":864.7,"ks":1.1},
{"x1":658,"y1":864,"x2":659.7,"y2":861.3,"ks":1.1},
{"x1":668,"y1":863.7,"x2":668.7,"y2":863,"ks":2.0},
{"x1":689.7,"y1":872,"x2":693,"y2":865.3,"ks":2.1},
{"x1":708,"y1":857,"x2":710.7,"y2":852.7,"ks":1.6},
{"x1":705.3,"y1":842.7,"x2":708,"y2":838.7,"ks":2.5},
{"x1":717.3,"y1":845.3,"x2":720.7,"y2":842,"ks":1.6},
{"x1":728.7,"y1":822.7,"x2":734,"y2":818.7,"ks":2.1},
{"x1":758.7,"y1":862,"x2":759.4,"y2":861.3,"ks":0.1},
{"x1":725.3,"y1":901.3,"x2":726,"y2":900.6,"ks":0.1},
{"x1":658.7,"y1":902,"x2":659.4,"y2":901.3,"ks":1.2}
]
},
"layer": [
{"layer": [
{"data": {"name": "vlines"}, "mark": {"type": "rule", "color": "#8c8c8c", "strokeWidth": 1.5},
 "encoding": {"x": {"field": "pos", "type": "quantitative", "scale": {"domain": [0, 760], "nice": false, "zero": false},
  "axis": {"orient": "top", "values": [52, 167, 273, 365, 443, 533, 632, 716], "labelExpr": "'' + (indexof([52, 167, 273, 365, 443, 533, 632, 716], datum.value) + 1)", "ticks": false, "domain": false, "grid": false, "labelFont": "Liberation Sans", "labelFontSize": 16, "labelColor": "#111111", "labelPadding": 4, "labelFlush": false, "title": "Aquilaria sinensis", "titleFont": "Liberation Sans", "titleFontSize": 25, "titleFontWeight": "bold", "titleFontStyle": "italic", "titleColor": "#111111", "titlePadding": 3}}}},
{"data": {"name": "hlines"}, "mark": {"type": "rule", "color": "#8c8c8c", "strokeWidth": 1.5},
 "encoding": {"y": {"field": "pos", "type": "quantitative", "scale": {"domain": [0, 903], "reverse": true, "nice": false, "zero": false},
  "axis": {"orient": "left", "values": [61, 198, 325, 434, 527, 634, 752, 851], "labelExpr": "'' + (indexof([61, 198, 325, 434, 527, 634, 752, 851], datum.value) + 1)", "ticks": false, "domain": false, "grid": false, "labelFont": "Liberation Sans", "labelFontSize": 16, "labelColor": "#111111", "labelPadding": 10, "labelFlush": false, "title": "Aquilaria sinensis", "titleFont": "Liberation Sans", "titleFontSize": 25, "titleFontWeight": "bold", "titleFontStyle": "italic", "titleColor": "#111111", "titlePadding": 6}}}},
{"data": {"name": "segments"}, "mark": {"type": "rule", "strokeWidth": 2, "strokeCap": "round", "opacity": 0.8},
 "encoding": {
  "x": {"field": "x1", "type": "quantitative", "scale": {"domain": [0, 760], "nice": false, "zero": false},
   "axis": {"orient": "top", "values": [52, 167, 273, 365, 443, 533, 632, 716], "labelExpr": "'' + (indexof([52, 167, 273, 365, 443, 533, 632, 716], datum.value) + 1)", "ticks": false, "domain": false, "grid": false, "labelFont": "Liberation Sans", "labelFontSize": 16, "labelColor": "#111111", "labelPadding": 4, "labelFlush": false, "title": "Aquilaria sinensis", "titleFont": "Liberation Sans", "titleFontSize": 25, "titleFontWeight": "bold", "titleFontStyle": "italic", "titleColor": "#111111", "titlePadding": 3}},
  "y": {"field": "y1", "type": "quantitative", "scale": {"domain": [0, 903], "reverse": true, "nice": false, "zero": false},
   "axis": {"orient": "left", "values": [61, 198, 325, 434, 527, 634, 752, 851], "labelExpr": "'' + (indexof([61, 198, 325, 434, 527, 634, 752, 851], datum.value) + 1)", "ticks": false, "domain": false, "grid": false, "labelFont": "Liberation Sans", "labelFontSize": 16, "labelColor": "#111111", "labelPadding": 10, "labelFlush": false, "title": "Aquilaria sinensis", "titleFont": "Liberation Sans", "titleFontSize": 25, "titleFontWeight": "bold", "titleFontStyle": "italic", "titleColor": "#111111", "titlePadding": 6}},
  "x2": {"field": "x2"},
  "y2": {"field": "y2"},
  "color": {"field": "ks", "type": "quantitative",
   "scale": {"domain": [0, 0.09, 0.645, 1.2, 1.758, 2.31, 2.862, 3], "range": ["#ff0029", "#ff0000", "#ffff00", "#00ff00", "#00ffff", "#0000ff", "#ff00ff", "#ff00bf"], "interpolate": "rgb"},
   "legend": {"title": null, "orient": "none", "legendX": 787, "legendY": 226, "direction": "vertical", "gradientLength": 452, "gradientThickness": 22, "gradientStrokeColor": "#333333", "gradientStrokeWidth": 1, "gradientOpacity": 1, "values": [0, 0.5, 1, 1.5, 2, 2.5, 3], "format": ".1f", "labelFont": "DejaVu Sans", "labelFontSize": 14, "labelColor": "#222222", "labelOffset": 5, "labelOverlap": false, "labelBaseline": "middle", "padding": 0}}
 }}
]},
{"data": {"name": "blocks"}, "mark": {"type": "rect", "filled": false, "stroke": "#ff1a1a", "strokeWidth": 1.8, "strokeDash": [4, 2.5]},
 "encoding": {
  "x": {"field": "x1", "type": "quantitative", "scale": {"domain": [0, 760], "nice": false, "zero": false},
   "axis": {"orient": "top", "values": [52, 167, 273, 365, 443, 533, 632, 716], "labelExpr": "'' + (indexof([52, 167, 273, 365, 443, 533, 632, 716], datum.value) + 1)", "ticks": false, "domain": false, "grid": false, "labelFont": "Liberation Sans", "labelFontSize": 16, "labelColor": "#111111", "labelPadding": 4, "labelFlush": false, "title": "Aquilaria sinensis", "titleFont": "Liberation Sans", "titleFontSize": 25, "titleFontWeight": "bold", "titleFontStyle": "italic", "titleColor": "#111111", "titlePadding": 3}},
  "x2": {"field": "x2"},
  "y": {"field": "y1", "type": "quantitative", "scale": {"domain": [0, 903], "reverse": true, "nice": false, "zero": false},
   "axis": {"orient": "right", "title": "Ks", "labels": false, "ticks": false, "domain": false, "grid": false, "titleFont": "DejaVu Sans", "titleFontSize": 22, "titleFontWeight": "normal", "titleColor": "#111111", "titleAngle": 270, "titleX": 91, "titleY": 451.5, "titleAlign": "center", "titleBaseline": "middle"}},
  "y2": {"field": "y2"}
 }}
],
"resolve": {"axis": {"y": "independent"}}
}
